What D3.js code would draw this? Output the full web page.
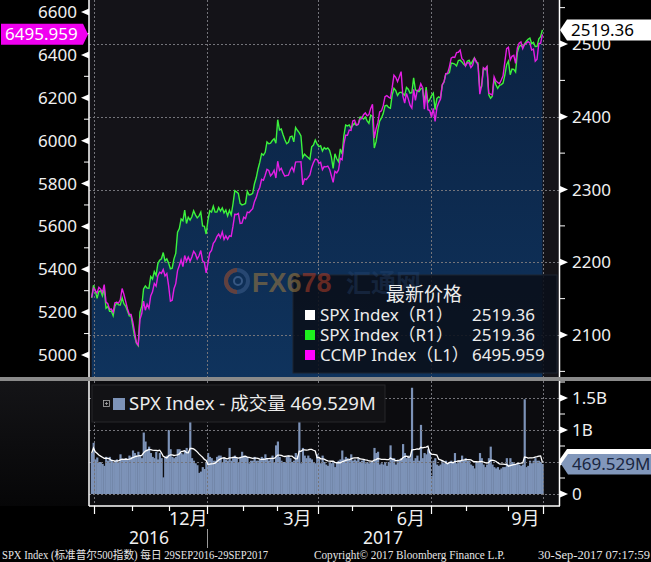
<!DOCTYPE html>
<html><head><meta charset="utf-8">
<script src="https://cdn.jsdelivr.net/npm/d3@7"></script>
<style>html,body{margin:0;padding:0;background:#000;}svg{display:block;}</style>
</head><body>
<svg id="c" width="651" height="562"></svg>
<script>
// ---------- DATA ----------
// trading days per month, Sep 2016 (from 29th) .. Sep 2017
const monthDays = [2,21,21,21,20,19,23,19,22,22,20,23,20];
const monthLabels = ["","","","12月","","","3月","","","6月","","","9月"];
const quarterMonths = [1,4,7,10,13]; // boundary indices that are quarter starts
const years = [{label:"2016", fromMonth:0, toMonth:4},{label:"2017", fromMonth:4, toMonth:13}];

const spx = [2151.13,2168.27,
2161.20,2150.49,2159.73,2160.77,2153.74,2163.66,2136.73,2139.18,2132.55,2132.98,2126.50,2139.60,2144.29,2141.34,2141.16,2151.33,2143.16,2139.43,2133.04,2126.41,2126.15,
2111.72,2097.94,2088.66,2085.18,2131.52,2139.56,2163.26,2167.48,2164.45,2164.20,2180.39,2176.94,2187.12,2181.90,2198.18,2202.94,2204.72,2213.35,2201.72,2204.66,2198.81,
2191.08,2191.95,2204.71,2212.23,2241.35,2246.19,2259.53,2256.96,2271.72,2253.28,2262.03,2258.07,2262.53,2270.76,2265.18,2260.96,2263.79,2268.88,2249.92,2249.26,2238.83,
2257.83,2270.75,2269.00,2276.98,2268.90,2268.90,2275.32,2270.44,2274.64,2267.89,2271.89,2263.69,2271.31,2265.20,2280.07,2298.37,2296.68,2294.69,2280.90,2278.87,
2279.55,2280.85,2297.42,2292.56,2293.08,2294.67,2307.87,2316.10,2328.25,2337.58,2349.25,2347.22,2351.16,2365.38,2362.82,2363.81,2367.34,2369.75,2363.64,
2395.96,2381.92,2383.12,2375.31,2368.39,2362.98,2364.87,2372.60,2373.47,2365.45,2385.26,2381.38,2378.25,2373.47,2344.02,2348.45,2345.96,2343.98,2341.59,2358.57,2361.13,2368.06,2362.72,
2358.84,2360.16,2352.95,2357.49,2355.54,2357.16,2353.78,2344.93,2328.95,2349.01,2342.19,2338.17,2355.84,2348.69,2374.15,2388.61,2387.45,2388.77,2384.20,
2388.33,2391.17,2388.13,2389.52,2399.29,2399.38,2396.92,2399.63,2394.44,2390.90,2402.32,2400.67,2357.03,2365.72,2381.73,2394.02,2398.42,2404.39,2415.07,2415.82,2412.91,2411.80,
2430.06,2439.07,2436.10,2429.33,2433.14,2433.79,2431.77,2429.39,2440.35,2437.92,2432.46,2433.15,2453.46,2437.03,2435.61,2434.50,2438.30,2439.07,2419.38,2440.69,2419.70,2423.41,
2429.01,2432.54,2409.75,2425.18,2427.43,2425.53,2443.25,2447.83,2459.27,2459.14,2460.61,2473.83,2473.45,2472.54,2469.91,2477.13,2477.83,2475.42,2472.10,2470.30,
2476.35,2477.57,2472.16,2476.83,2480.91,2474.92,2474.02,2438.21,2441.32,2465.84,2464.61,2468.11,2430.01,2425.55,2428.37,2452.51,2444.04,2438.97,2443.05,2444.24,2446.30,2457.59,2471.65,
2476.55,2457.85,2465.54,2465.10,2461.43,2488.11,2496.48,2498.37,2495.62,2500.23,2503.87,2506.65,2508.24,2500.60,2502.22,2496.66,2496.84,2507.04,2510.06,2519.36];

const ccmp = [5269.15,5312.00,
5300.87,5289.66,5316.02,5306.85,5292.40,5328.67,5246.79,5239.02,5213.33,5214.16,5199.82,5243.84,5246.41,5241.83,5257.40,5309.83,5283.40,5250.27,5215.97,5190.10,5189.14,
5153.58,5105.57,5058.41,5046.37,5166.17,5193.49,5251.07,5208.80,5237.11,5218.40,5275.62,5294.58,5333.97,5321.51,5368.86,5386.35,5380.68,5398.92,5368.81,5379.92,5323.68,
5251.11,5255.65,5308.89,5333.00,5393.76,5417.36,5444.50,5412.54,5463.83,5436.67,5456.85,5437.16,5457.44,5483.94,5471.43,5447.42,5462.69,5487.44,5438.56,5432.09,5383.12,
5429.08,5477.00,5487.94,5521.06,5531.82,5551.82,5563.65,5547.49,5574.12,5538.73,5555.65,5540.08,5555.33,5552.94,5600.96,5656.34,5655.18,5660.78,5613.71,5614.79,
5642.65,5636.20,5666.77,5663.55,5674.22,5682.45,5715.18,5734.13,5763.96,5782.57,5819.44,5814.90,5838.58,5865.95,5860.63,5835.51,5845.31,5861.90,5825.44,
5904.03,5861.22,5870.75,5849.18,5833.93,5837.55,5838.81,5861.73,5875.78,5856.82,5900.05,5900.76,5901.00,5901.53,5793.83,5821.64,5817.69,5828.74,5840.37,5875.14,5897.55,5914.34,5911.74,
5894.68,5898.61,5864.48,5878.95,5877.81,5880.93,5866.77,5836.16,5805.15,5856.79,5849.47,5863.03,5916.78,5910.52,5983.82,6025.49,6025.23,6048.94,6047.61,
6091.60,6095.37,6072.55,6075.34,6100.76,6102.66,6120.59,6129.14,6115.96,6121.23,6149.67,6169.87,6011.24,6055.13,6083.70,6133.62,6138.71,6163.02,6205.26,6210.19,6203.19,6198.52,
6246.83,6305.80,6295.68,6275.06,6297.38,6321.76,6207.92,6175.46,6220.37,6194.89,6165.50,6151.76,6239.01,6188.03,6233.95,6236.69,6265.25,6247.15,6146.62,6234.41,6144.35,6140.42,
6110.06,6150.86,6089.46,6153.08,6176.39,6193.31,6261.17,6274.44,6312.47,6314.43,6344.31,6385.04,6390.00,6387.75,6410.81,6412.17,6422.75,6382.19,6374.68,6348.12,
6362.94,6362.65,6340.34,6351.56,6383.77,6370.46,6352.33,6216.87,6256.56,6340.23,6333.01,6345.11,6221.91,6216.53,6213.13,6297.48,6278.41,6271.33,6265.64,6283.02,6301.89,6368.31,6428.66,
6435.33,6375.57,6393.31,6397.87,6360.19,6432.26,6454.28,6460.19,6429.08,6448.47,6454.64,6461.32,6456.04,6422.69,6426.92,6370.59,6380.16,6453.26,6453.45,6495.959];

// volume in millions
const volume = [640,800,
540,570,500,500,470,440,580,520,580,540,500,520,540,500,620,540,540,560,540,600,580,
680,640,600,660,600,560,960,820,700,740,640,580,560,660,540,640,560,260,580,600,1000,
700,580,560,580,700,700,640,620,680,720,660,1250,560,520,480,450,330,350,420,390,500,
640,580,560,520,520,580,600,600,500,560,540,520,720,520,580,600,560,500,580,660,
600,580,580,480,520,520,580,520,520,540,580,560,620,560,520,560,600,500,760,
820,580,520,500,500,580,600,560,500,520,640,600,1680,480,720,600,560,600,560,540,500,480,620,
560,480,600,500,460,440,500,480,500,420,500,520,540,680,540,580,560,540,620,
520,540,520,560,500,520,540,480,500,480,500,500,720,640,660,460,480,460,500,440,500,760,
560,560,460,520,520,560,780,640,560,600,560,1660,520,560,600,520,1080,560,640,620,700,660,
280,520,560,460,440,460,520,480,520,480,500,520,500,640,480,520,520,600,520,560,
520,520,460,440,400,500,500,640,560,460,420,460,560,740,460,420,400,420,380,400,420,420,560,
460,560,500,480,460,480,460,440,460,1480,420,440,520,480,520,560,520,520,500,469.529];

const leftTicks = [5000,5200,5400,5600,5800,6000,6200,6400,6600];
const leftMinor = [5100,5300,5500,5700,5900,6100,6300,6500];
const rightTicks = [2100,2200,2300,2400,2500];
const rightMinor = [2050,2150,2250,2350,2450,2550];
const volTicks = [0,500,1000,1500];
const volTickLabels = ["0","","1B","1.5B"];
const volMinor = [250,750,1250,1750];

const legendTitle = "最新价格";
const legendRows = [
  {name:"SPX Index（R1）", value:"2519.36", color:"#ffffff"},
  {name:"SPX Index（R1）", value:"2519.36", color:"#1ef01e"},
  {name:"CCMP Index（L1）", value:"6495.959", color:"#ff00ff"}
];
const lastSpx = "2519.36", lastCcmp = "6495.959", lastVol = "469.529M";
const volLegend = "SPX Index - 成交量 469.529M";
const footer = [
  {t:"SPX Index (标准普尔500指数)  每日 29SEP2016-29SEP2017", x:2, w:266},
  {t:"Copyright© 2017 Bloomberg Finance L.P.", x:314, w:191},
  {t:"30-Sep-2017 07:17:59", x:538, w:112}
];

(function(){
// ---------- LAYOUT ----------
const svg = d3.select("#c");
const FONT = "'Noto Sans','Noto Sans CJK SC',sans-serif";
const PL = 89, PR = 559, PT = 0, PB = 377, VT = 381, VB = 506;
const n = spx.length;
const x = d3.scaleLinear().domain([-0.5, n - 0.5]).range([90.8, 543.3]);
const yL = d3.scaleLinear().domain([5000, 6600]).range([355, 12]);
const yR = d3.scaleLinear().domain([2100, 2500]).range([335, 44]);
const yV = d3.scaleLinear().domain([0, 1500]).range([494, 398]);

const bounds = [-0.5];
monthDays.forEach((d, i) => bounds.push(bounds[i] + d));

const defs = svg.append("defs");
const g1 = defs.append("linearGradient").attr("id","areaG").attr("gradientUnits","userSpaceOnUse")
  .attr("x1",0).attr("y1",0).attr("x2",0).attr("y2",PB);
g1.append("stop").attr("offset","0").attr("stop-color","#0b2140");
g1.append("stop").attr("offset","1").attr("stop-color","#0f335d");
const g2 = defs.append("linearGradient").attr("id","leftVolG").attr("x1",0).attr("y1",0).attr("x2",0).attr("y2",1);
g2.append("stop").attr("offset","0").attr("stop-color","#141417");
g2.append("stop").attr("offset","1").attr("stop-color","#060607");
defs.append("clipPath").attr("id","topClip").append("rect").attr("x",PL).attr("y",PT).attr("width",PR-PL).attr("height",PB-PT);
defs.append("clipPath").attr("id","volClip").append("rect").attr("x",PL).attr("y",VT).attr("width",PR-PL).attr("height",VB-VT);

svg.append("rect").attr("width",651).attr("height",562).attr("fill","#000");

// ---------- TOP PANEL ----------
svg.append("rect").attr("x",PL).attr("y",PT).attr("width",PR-PL).attr("height",PB-PT).attr("fill","#141318");
const topG = svg.append("g").attr("clip-path","url(#topClip)");
const idx = d3.range(n);
topG.append("path").datum(idx)
  .attr("d", d3.area().x(i => x(i)).y0(PB).y1(i => yR(spx[i])))
  .attr("fill","url(#areaG)");

const gridC = "#74747a";
topG.selectAll(".hg").data(rightTicks).join("line")
  .attr("x1",PL).attr("x2",PR).attr("y1",d=>Math.round(yR(d))+0.5).attr("y2",d=>Math.round(yR(d))+0.5)
  .attr("stroke",gridC).attr("stroke-dasharray","2,2");
const qx = quarterMonths.map(k => Math.round(x(bounds[k])) + 0.5);
topG.selectAll(".vg").data(qx).join("line")
  .attr("x1",d=>d).attr("x2",d=>d).attr("y1",PT).attr("y2",PB)
  .attr("stroke",gridC).attr("stroke-dasharray","2,2");

topG.append("path").datum(idx)
  .attr("d", d3.line().x(i => x(i)).y(i => yR(spx[i])))
  .attr("fill","none").attr("stroke","#3cf23c").attr("stroke-width",1.4);
topG.append("path").datum(idx)
  .attr("d", d3.line().x(i => x(i)).y(i => yL(ccmp[i])))
  .attr("fill","none").attr("stroke","#e41ee4").attr("stroke-width",1.4);

// legend box
svg.append("rect").attr("x",293).attr("y",275).attr("width",264).attr("height",98)
  .attr("fill","#0a0f19").attr("fill-opacity",0.88).attr("stroke","#1d2430");

// watermark (drawn over the legend box, under its text)
const wm = svg.append("g").attr("opacity",0.55);
wm.append("circle").attr("cx",237).attr("cy",281).attr("r",11).attr("fill","none").attr("stroke","#3d5d8a").attr("stroke-width",4);
wm.append("path").attr("d","M237,270 A11,11 0 0,0 237,292").attr("fill","none").attr("stroke","#a8502c").attr("stroke-width",4);
wm.append("circle").attr("cx",238).attr("cy",281).attr("r",4).attr("fill","none").attr("stroke","#5a7aa8").attr("stroke-width",2);
const wt = wm.append("text").attr("x",252).attr("y",292).attr("font-family","'Liberation Sans',sans-serif")
  .attr("font-weight","bold").attr("font-size",27);
wt.append("tspan").attr("fill","#a07c40").text("FX6");
wt.append("tspan").attr("fill","#b03c26").text("78");
wm.append("text").attr("x",346).attr("y",292).attr("font-family","'Noto Sans CJK SC',sans-serif")
  .attr("font-weight","bold").attr("font-size",25).attr("fill","#2c4c78").attr("opacity",0.6).text("汇通网");

svg.append("text").attr("x",424).attr("y",301).attr("text-anchor","middle").attr("font-family",FONT)
  .attr("font-size",19).attr("fill","#ececec").text(legendTitle);
const lr = svg.selectAll(".lr").data(legendRows).join("g");
lr.append("rect").attr("x",305).attr("y",(d,i)=>310+i*20).attr("width",10).attr("height",10).attr("fill",d=>d.color);
lr.append("text").attr("x",320).attr("y",(d,i)=>321+i*20).attr("font-family",FONT).attr("font-size",17)
  .attr("fill","#ececec").text(d=>d.name);
lr.append("text").attr("x",472).attr("y",(d,i)=>321+i*20).attr("font-family",FONT).attr("font-size",17)
  .attr("fill","#ececec").text(d=>d.value);

// axes lines
svg.append("line").attr("x1",PL).attr("x2",PL).attr("y1",0).attr("y2",PB).attr("stroke","#fff").attr("stroke-width",1.5);
svg.append("line").attr("x1",PR+0.5).attr("x2",PR+0.5).attr("y1",0).attr("y2",PB).attr("stroke","#fff").attr("stroke-width",1.5);

// left axis
svg.selectAll(".lt").data(leftTicks).join("path")
  .attr("d",d=>{const y=yL(d);return `M${PL},${y-3.5}L${PL-8},${y}L${PL},${y+3.5}Z`;}).attr("fill","#fff");
svg.selectAll(".lm").data(leftMinor).join("line")
  .attr("x1",PL-5).attr("x2",PL).attr("y1",d=>yL(d)).attr("y2",d=>yL(d)).attr("stroke","#fff");
svg.selectAll(".ltl").data(leftTicks).join("text")
  .attr("x",77).attr("y",d=>yL(d)).attr("dy","0.36em").attr("text-anchor","end")
  .attr("font-family",FONT).attr("font-size",17).attr("fill","#f0f0f0").text(d=>d);

// right axis
svg.selectAll(".rt").data(rightTicks).join("path")
  .attr("d",d=>{const y=yR(d);return `M${PR+1},${y-3.5}L${PR+9},${y}L${PR+1},${y+3.5}Z`;}).attr("fill","#fff");
svg.selectAll(".rm").data(rightMinor).join("line")
  .attr("x1",PR).attr("x2",PR+6).attr("y1",d=>yR(d)).attr("y2",d=>yR(d)).attr("stroke","#fff");
svg.selectAll(".rtl").data(rightTicks).join("text")
  .attr("x",572).attr("y",d=>yR(d)).attr("dy","0.36em")
  .attr("font-family",FONT).attr("font-size",17).attr("fill","#f0f0f0").text(d=>d);

// last value labels
const yc = yL(ccmp[n-1]);
svg.append("path").attr("d",`M1,${yc-10.5}L83,${yc-10.5}L88,${yc}L83,${yc+10.5}L1,${yc+10.5}Z`).attr("fill","#f000f0");
svg.append("text").attr("x",5).attr("y",yc).attr("dy","0.36em").attr("font-family",FONT).attr("font-size",17)
  .attr("fill","#fff").text(lastCcmp);
const ys = yR(spx[n-1]);
svg.append("path").attr("d",`M560,${ys}L567,${ys-10.5}L651,${ys-10.5}L651,${ys+10.5}L567,${ys+10.5}Z`).attr("fill","#fff");
svg.append("text").attr("x",571).attr("y",ys).attr("dy","0.36em").attr("font-family",FONT).attr("font-size",17)
  .attr("fill","#000").text(lastSpx);

// separator
svg.append("rect").attr("x",0).attr("y",PB).attr("width",651).attr("height",VT-PB).attr("fill","#8a8a8a");

// ---------- VOLUME PANEL ----------
svg.append("rect").attr("x",0).attr("y",VT).attr("width",PL).attr("height",VB-VT).attr("fill","url(#leftVolG)");
svg.append("rect").attr("x",PL).attr("y",VT).attr("width",PR-PL).attr("height",VB-VT).attr("fill","#0c0c0f");
const vol = svg.append("g").attr("clip-path","url(#volClip)");
const bw = x(1) - x(0);
vol.selectAll(".vb").data(idx).join("rect")
  .attr("x",i=>x(i)-bw/2).attr("width",bw+0.4)
  .attr("y",i=>yV(volume[i])).attr("height",i=>yV(0)-yV(volume[i]))
  .attr("fill","#7d93b8");
const maWin = 10;
const ma = idx.map(i => d3.mean(volume.slice(Math.max(0,i-maWin+1), i+1)));
vol.selectAll(".vhg").data(volTicks).join("line")
  .attr("x1",PL).attr("x2",PR).attr("y1",d=>Math.round(yV(d))+0.5).attr("y2",d=>Math.round(yV(d))+0.5)
  .attr("stroke",gridC).attr("stroke-dasharray","2,2");
vol.selectAll(".vvg").data(qx).join("line")
  .attr("x1",d=>d).attr("x2",d=>d).attr("y1",VT).attr("y2",VB)
  .attr("stroke",gridC).attr("stroke-dasharray","2,2");
vol.append("path").datum(idx).attr("d",d3.line().x(i=>x(i)).y(i=>yV(ma[i])))
  .attr("fill","none").attr("stroke","#fff").attr("stroke-width",1.3);

// volume legend
svg.append("rect").attr("x",92).attr("y",385).attr("width",293).attr("height",37)
  .attr("fill","#121215").attr("stroke","#26262a");
svg.append("rect").attr("x",103.5).attr("y",400.5).attr("width",6).attr("height",6).attr("fill","none").attr("stroke","#aaa").attr("stroke-width",0.8);
svg.append("path").attr("d","M105,403.5H108M106.5,402V405").attr("stroke","#aaa").attr("stroke-width",0.8);
svg.append("rect").attr("x",113).attr("y",398).attr("width",12).attr("height",12).attr("fill","#7d93b8");
svg.append("text").attr("x",129).attr("y",410).attr("font-family",FONT).attr("font-size",18.5)
  .attr("fill","#ececec").text(volLegend);

// volume axes
svg.append("line").attr("x1",PL).attr("x2",PL).attr("y1",VT).attr("y2",VB).attr("stroke","#fff").attr("stroke-width",1.5);
svg.append("line").attr("x1",PR+0.5).attr("x2",PR+0.5).attr("y1",VT).attr("y2",VB).attr("stroke","#fff").attr("stroke-width",1.5);
svg.selectAll(".vt").data(volTicks).join("path")
  .attr("d",d=>{const y=yV(d);return `M${PR+1},${y-3.5}L${PR+9},${y}L${PR+1},${y+3.5}Z`;}).attr("fill","#fff");
svg.selectAll(".vm").data(volMinor).join("line")
  .attr("x1",PR).attr("x2",PR+6).attr("y1",d=>yV(d)).attr("y2",d=>yV(d)).attr("stroke","#fff");
svg.selectAll(".vtl").data(volTicks).join("text")
  .attr("x",572).attr("y",d=>yV(d)).attr("dy","0.36em")
  .attr("font-family",FONT).attr("font-size",17).attr("fill","#f0f0f0").text((d,i)=>volTickLabels[i]);
const yv = yV(volume[n-1]);
svg.append("path").attr("d",`M560,${yv-5}L567,${yv-15}L651,${yv-15}L651,${yv+6}L567,${yv+6}Z`).attr("fill","#fff");
svg.append("path").attr("d",`M561,${yv}L568,${yv-10}L651,${yv-10}L651,${yv+10.5}L568,${yv+10.5}Z`).attr("fill","#8197bb");
svg.append("text").attr("x",572).attr("y",yv).attr("dy","0.38em").attr("font-family",FONT).attr("font-size",17)
  .attr("fill","#1a2640").text(lastVol);

// ---------- X AXIS ----------
svg.append("line").attr("x1",PL).attr("x2",PR+1).attr("y1",VB).attr("y2",VB).attr("stroke","#fff").attr("stroke-width",1.5);
const tickB = d3.range(1, bounds.length);
svg.selectAll(".xt").data(tickB).join("line")
  .attr("x1",k=>Math.round(x(bounds[k]))+0.5).attr("x2",k=>Math.round(x(bounds[k]))+0.5)
  .attr("y1",VB).attr("y2",k=>quarterMonths.includes(k)?VB+8:VB+5)
  .attr("stroke","#fff").attr("stroke-width",1.2);
svg.selectAll(".xl").data(d3.range(monthLabels.length).filter(k=>monthLabels[k])).join("text")
  .attr("x",k=>x((bounds[k]+bounds[k+1])/2)).attr("y",525).attr("text-anchor","middle")
  .attr("font-family",FONT).attr("font-size",18).attr("fill","#f0f0f0").text(k=>monthLabels[k]);
svg.selectAll(".yl").data(years).join("text")
  .attr("x",d=>{const a=x(bounds[d.fromMonth]);const b=d.toMonth>=bounds.length-1?PR:x(bounds[d.toMonth]);return (Math.max(a,PL)+b)/2;})
  .attr("y",544).attr("text-anchor","middle")
  .attr("font-family",FONT).attr("font-size",17.5).attr("fill","#f0f0f0").text(d=>d.label);
svg.append("line").attr("x1",qx[1]).attr("x2",qx[1]).attr("y1",529).attr("y2",548).attr("stroke","#9a9a9a");

// footer
svg.selectAll(".ft").data(footer).join("text")
  .attr("x",d=>d.x).attr("y",558.5).attr("textLength",d=>d.w).attr("lengthAdjust","spacingAndGlyphs")
  .attr("font-family","'Liberation Serif','Noto Sans CJK SC',serif").attr("font-size",11.5)
  .attr("fill","#e6e6e6").text(d=>d.t);
})();
</script>
</body></html>
